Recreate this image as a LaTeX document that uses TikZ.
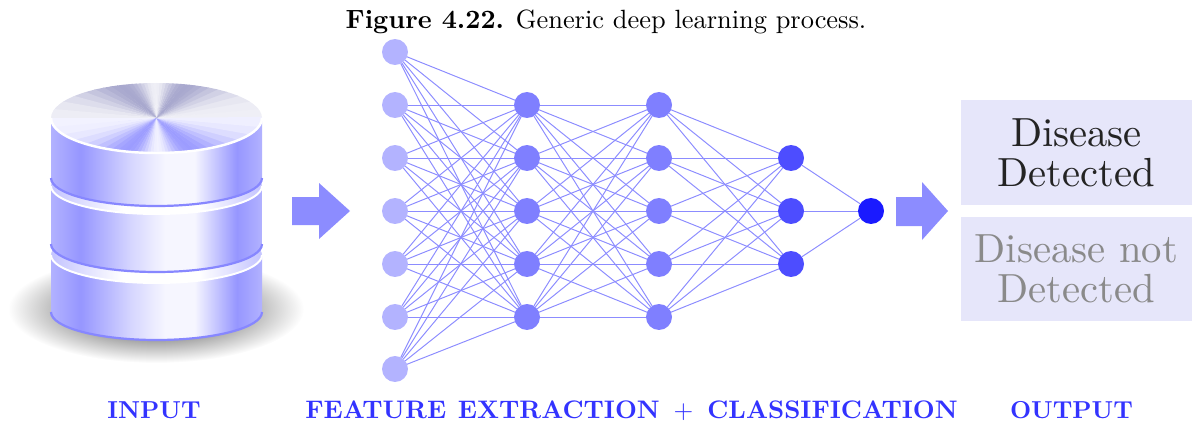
\documentclass[tikz,border=0pt]{standalone}
\usetikzlibrary{calc}

% palette
\definecolor{edgec}{RGB}{140,140,255}
\definecolor{lay1}{RGB}{179,179,255}
\definecolor{lay2}{RGB}{127,127,255}
\definecolor{lay4}{RGB}{77,77,255}
\definecolor{lay5}{RGB}{26,26,255}
\definecolor{arrowc}{RGB}{140,140,255}
\definecolor{labc}{RGB}{51,51,255}
\definecolor{boxc}{RGB}{230,230,250}
\definecolor{sideA}{RGB}{178,178,255}
\definecolor{sideB}{RGB}{150,150,255}
\definecolor{sideC}{RGB}{214,214,255}
\definecolor{sideD}{RGB}{246,246,255}
\definecolor{rimA}{RGB}{196,196,255}
\definecolor{rimline}{RGB}{135,135,255}
\definecolor{capT}{RGB}{140,140,190}
\definecolor{capB}{RGB}{125,125,255}
\definecolor{shadowc}{RGB}{128,128,128}

% database shadings
\pgfdeclarehorizontalshading{dbside}{100bp}{color(0bp)=(sideA); color(25bp)=(sideA);
  color(32bp)=(sideB); color(44bp)=(sideC); color(52bp)=(sideD); color(59bp)=(sideD);
  color(69bp)=(sideB); color(75bp)=(sideA); color(100bp)=(sideA)}
\pgfdeclarehorizontalshading{dbrim}{100bp}{color(0bp)=(rimA); color(25bp)=(rimA);
  color(42bp)=(white); color(60bp)=(white); color(75bp)=(rimA); color(100bp)=(rimA)}
\pgfdeclareradialshading{dbshadow}{\pgfpoint{0bp}{0bp}}{color(0bp)=(shadowc);
  color(14bp)=(shadowc!75!white); color(25bp)=(white); color(50bp)=(white)}

% one disc of the database: side from y=#1 down to y=#2 (at the rims)
\newcommand\dbbody[2]{%
  \shade[shading=dbside] (51,#1) -- (51,#2)
    arc[start angle=180,end angle=0,x radius=105.5,y radius=28] -- (262,#1) -- cycle;
  \draw[rimline, line width=0.9pt] (51,#2)
    arc[start angle=180,end angle=0,x radius=105.5,y radius=28];
}
% visible top face of a lower disc
\newcommand\dbface[1]{%
  \shade[shading=dbrim] (156.5,#1) ellipse[x radius=105.5,y radius=28];
  \draw[white, line width=0.8pt] (51,#1)
    arc[start angle=180,end angle=0,x radius=105.5,y radius=28];
}

\tikzset{
  neuron/.style={circle, minimum size=10.6pt, inner sep=0pt, outer sep=0pt},
  conn/.style={edgec, line width=0.4pt},
  bigarrow/.style={fill=arrowc},
  outbox/.style={fill=boxc, minimum width=94.2pt, minimum height=42.8pt, inner sep=0pt},
  lab/.style={anchor=base, text=labc, font=\bfseries, inner sep=0pt},
}
% large two-line text set in the 10pt design, enlarged and set a little low
\newcommand\bigtwo[2]{\raisebox{-2.4pt}[\height][\depth]{\scalebox{1.66}{\fontsize{10}{9.8}\selectfont
  \begin{tabular}{@{}c@{}}#1\\#2\end{tabular}}}}

\begin{document}
\begin{tikzpicture}[x=0.408pt,y=-0.408pt]
\useasboundingbox (0,0) rectangle (1192,423);

% caption
\node[anchor=base, inner sep=0pt] (cap) at (606,29)
  {\scalebox{1.077}{\textbf{Figure 4.22.} Generic deep learning process.}};

% ---------- database ----------
\shade[shading=dbshadow] (156,309) ellipse[x radius=148,y radius=54];
\dbbody{255}{312}
\dbface{255}
\dbbody{186}{244}
\dbface{186}
\dbbody{118}{178}
% top cap with a brushed, conic look
\begin{scope}
  \clip (156.5,118) ellipse[x radius=105.5,y radius=35];
  \foreach \a in {0,5,...,175}{
    \pgfmathsetmacro\p{14+62*(1-cos(4*\a))/2}
    \fill[capT!\p!white] (156.5,118) -- ({156.5+160*cos(\a)},{118-160*sin(\a)})
      -- ({156.5+160*cos(\a+5.6)},{118-160*sin(\a+5.6)}) -- cycle;
  }
  \foreach \a in {180,185,...,355}{
    \pgfmathsetmacro\p{10+66*(1-cos(4*\a))/2}
    \fill[capB!\p!white] (156.5,118) -- ({156.5+160*cos(\a)},{118-160*sin(\a)})
      -- ({156.5+160*cos(\a+5.6)},{118-160*sin(\a+5.6)}) -- cycle;
  }
\end{scope}
\draw[white, line width=1pt] (51,118)
  arc[start angle=180,end angle=0,x radius=105.5,y radius=35];

% ---------- arrows ----------
\fill[bigarrow] (292,197) -- (319,197) -- (319,183) -- (350,211) -- (319,239)
  -- (319,225) -- (292,225) -- cycle;
\fill[bigarrow] (896,197) -- (922,197) -- (922,182) -- (948,211) -- (922,240)
  -- (922,226) -- (896,226) -- cycle;

% ---------- network ----------
\foreach \i/\y in {1/52,2/105,3/158,4/211,5/264,6/317,7/369}
  \node[neuron, fill=lay1] (a\i) at (395,\y) {};
\foreach \i/\y in {1/105,2/158,3/211,4/264,5/317}{
  \node[neuron, fill=lay2] (b\i) at (527,\y) {};
  \node[neuron, fill=lay2] (c\i) at (659,\y) {};
}
\foreach \i/\y in {1/158,2/211,3/264}
  \node[neuron, fill=lay4] (d\i) at (791,\y) {};
\node[neuron, fill=lay5] (e1) at (871,211) {};

\foreach \i in {1,...,7}
  \foreach \j in {1,...,5}
    \draw[conn] (a\i) -- (b\j);
\foreach \i in {1,...,5}
  \foreach \j in {1,...,5}
    \draw[conn] (b\i) -- (c\j);
\foreach \i in {1,...,5}
  \foreach \j in {1,2,3}
    \draw[conn] (c\i) -- (d\j);
\foreach \i in {1,2,3}
  \draw[conn] (d\i) -- (e1);

% ---------- output ----------
\node[outbox, text=black!86] (det) at (1076.5,152.5) {\bigtwo{Disease}{Detected}};
\node[outbox, text=black!46] (notdet) at (1076.5,269) {\bigtwo{Disease not}{Detected}};

% ---------- stage labels ----------
\node[lab] (linput) at (154,418) {INPUT};
\node[lab] (lfeat) at (631.5,418)
  {\scalebox{1.035}{FEATURE\hspace{4.6pt}EXTRACTION\hspace{5.5pt}$+$\hspace{5.5pt}CLASSIFICATION}};
\node[lab] (lout) at (1071.5,418) {OUTPUT};
\end{tikzpicture}
\end{document}
